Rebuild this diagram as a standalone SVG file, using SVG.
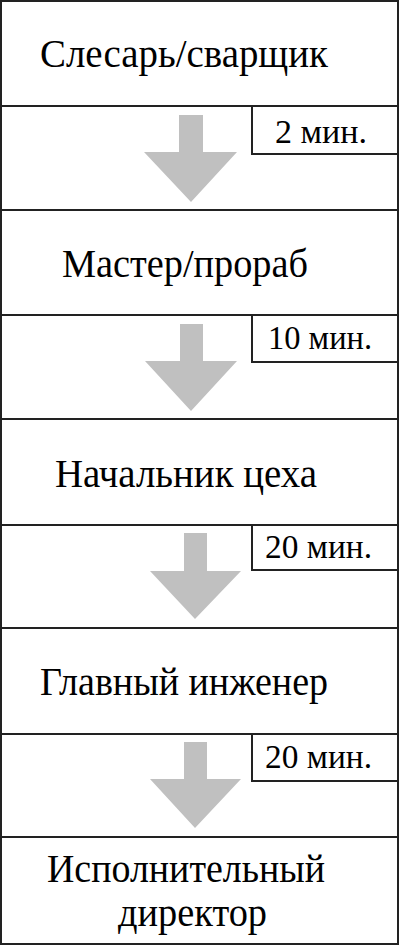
<svg xmlns="http://www.w3.org/2000/svg" width="400" height="946" viewBox="0 0 400 946" font-family="'Liberation Serif', 'DejaVu Serif', serif">
<defs>
<style>
.box{fill:#fff;stroke:#222;stroke-width:2}
.lbl{font-family:'Liberation Serif','DejaVu Serif',serif;font-size:40px;fill:#000}
.time{font-family:'Liberation Serif','DejaVu Serif',serif;font-size:34px;fill:#000}
.arr{fill:#c0c0c0}
</style>
</defs>
<rect x="0" y="0" width="400" height="946" fill="#fff"/>
<g id="node1">
<rect class="box" x="1" y="1" width="397" height="105"/>
<text class="lbl" font-size="40" x="40" y="67" textLength="288" lengthAdjust="spacingAndGlyphs">Слесарь/сварщик</text>
</g>
<g id="gap1">
<rect class="box" x="1" y="106" width="397" height="104"/>
</g>
<g id="node2">
<rect class="box" x="1" y="210" width="397" height="105"/>
<text class="lbl" font-size="40" x="62" y="277" textLength="246" lengthAdjust="spacingAndGlyphs">Мастер/прораб</text>
</g>
<g id="gap2">
<rect class="box" x="1" y="315" width="397" height="104"/>
</g>
<g id="node3">
<rect class="box" x="1" y="419" width="397" height="106"/>
<text class="lbl" font-size="40" x="55" y="487" textLength="262" lengthAdjust="spacingAndGlyphs">Начальник цеха</text>
</g>
<g id="gap3">
<rect class="box" x="1" y="525" width="397" height="103"/>
</g>
<g id="node4">
<rect class="box" x="1" y="628" width="397" height="106"/>
<text class="lbl" font-size="40" x="40" y="695" textLength="288" lengthAdjust="spacingAndGlyphs">Главный инженер</text>
</g>
<g id="gap4">
<rect class="box" x="1" y="734" width="397" height="103"/>
</g>
<g id="node5">
<rect class="box" x="1" y="837" width="397" height="107"/>
<text class="lbl" font-size="40" x="47" y="882" textLength="278" lengthAdjust="spacingAndGlyphs">Исполнительный</text>
<text class="lbl" font-size="40" x="118" y="926" textLength="149" lengthAdjust="spacingAndGlyphs">директор</text>
</g>
<g id="connectors">
<polygon class="arr" points="179,115 203,115 203,152 237,152 191,202 144,152 179,152"/>
<polygon class="arr" points="180,324 203,324 203,361 237,361 191,411 145,361 180,361"/>
<polygon class="arr" points="184,533 207,533 207,571 241,571 195,619 150,571 184,571"/>
<polygon class="arr" points="184,742 207,742 207,779 241,779 195,828 150,779 184,779"/>
</g>
<g id="time1">
<rect class="box" x="252" y="106" width="146" height="48"/>
<text class="time" font-size="34" x="275" y="143" textLength="92" lengthAdjust="spacingAndGlyphs">2 мин.</text>
</g>
<g id="time2">
<rect class="box" x="252" y="315" width="146" height="47"/>
<text class="time" font-size="34" x="268" y="349" textLength="104" lengthAdjust="spacingAndGlyphs">10 мин.</text>
</g>
<g id="time3">
<rect class="box" x="252" y="525" width="146" height="45"/>
<text class="time" font-size="34" x="265" y="558" textLength="107" lengthAdjust="spacingAndGlyphs">20 мин.</text>
</g>
<g id="time4">
<rect class="box" x="252" y="734" width="146" height="47"/>
<text class="time" font-size="34" x="265" y="768" textLength="107" lengthAdjust="spacingAndGlyphs">20 мин.</text>
</g>
</svg>
